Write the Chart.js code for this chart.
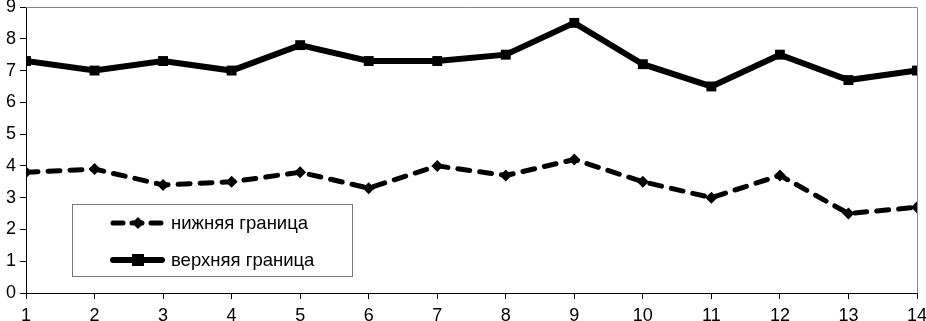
<!DOCTYPE html>
<html>
<head>
<meta charset="utf-8">
<script src="https://cdn.jsdelivr.net/npm/chart.js@4.4.0/dist/chart.umd.min.js"></script>
<style>
  html, body { margin: 0; padding: 0; background: #fff; }
  #wrap { width: 926px; height: 321px; }
</style>
</head>
<body>
<div id="wrap"><canvas id="bounds-chart"></canvas></div>
<script>
// data
const points = [1, 2, 3, 4, 5, 6, 7, 8, 9, 10, 11, 12, 13, 14];
const lowerBound = [3.8, 3.9, 3.4, 3.5, 3.8, 3.3, 4.0, 3.7, 4.2, 3.5, 3.0, 3.7, 2.5, 2.7];
const upperBound = [7.3, 7.0, 7.3, 7.0, 7.8, 7.3, 7.3, 7.5, 8.5, 7.2, 6.5, 7.5, 6.7, 7.0];
const seriesNames = ['нижняя граница', 'верхняя граница'];

const FONT = 'Liberation Sans, Arial, sans-serif';

// gray top/right frame + boxed legend inside the plot
const framePlugin = {
  id: 'frame',
  afterDraw(chart) {
    const { ctx, chartArea: a } = chart;
    ctx.save();
    ctx.strokeStyle = '#888';
    ctx.lineWidth = 1;
    ctx.beginPath();
    ctx.moveTo(a.left, a.top + 0.5);
    ctx.lineTo(a.right + 0.5, a.top + 0.5);
    ctx.lineTo(a.right + 0.5, a.bottom);
    ctx.stroke();

    // legend box
    const bx = 72.5, by = 204.5, bw = 280, bh = 72;
    ctx.fillStyle = '#fff';
    ctx.fillRect(bx, by, bw, bh);
    ctx.strokeStyle = '#777';
    ctx.strokeRect(bx, by, bw, bh);

    const rows = [
      { y: 223, dash: [10, 9], width: 5, marker: 'diamond' },
      { y: 260, dash: [], width: 6, marker: 'square' }
    ];
    rows.forEach((r, i) => {
      ctx.strokeStyle = '#000';
      ctx.lineWidth = r.width;
      ctx.lineCap = 'round';
      ctx.setLineDash(r.dash);
      ctx.beginPath();
      ctx.moveTo(113, r.y);
      ctx.lineTo(162, r.y);
      ctx.stroke();
      ctx.setLineDash([]);
      ctx.fillStyle = '#000';
      ctx.beginPath();
      if (r.marker === 'square') {
        ctx.rect(132, r.y - 6, 12, 12);
      } else {
        ctx.moveTo(138, r.y - 6);
        ctx.lineTo(144, r.y);
        ctx.lineTo(138, r.y + 6);
        ctx.lineTo(132, r.y);
        ctx.closePath();
      }
      ctx.fill();
      ctx.font = '18.5px ' + FONT;
      ctx.textBaseline = 'middle';
      ctx.fillText(seriesNames[i], 171, r.y + 1);
    });
    ctx.restore();
  }
};

const ctx = document.getElementById('bounds-chart').getContext('2d');
new Chart(ctx, {
  type: 'line',
  data: {
    datasets: [
      {
        label: seriesNames[0],
        data: points.map((x, i) => ({ x: x, y: lowerBound[i] })),
        borderColor: '#000',
        backgroundColor: '#000',
        borderWidth: 5,
        borderDash: [12, 10],
        borderCapStyle: 'round',
        pointStyle: 'rectRot',
        pointRadius: 6,
        pointBorderWidth: 0,
        tension: 0
      },
      {
        label: seriesNames[1],
        data: points.map((x, i) => ({ x: x, y: upperBound[i] })),
        borderColor: '#000',
        backgroundColor: '#000',
        borderWidth: 6,
        pointStyle: 'rect',
        pointRadius: 7,
        pointBorderWidth: 0,
        tension: 0
      }
    ]
  },
  plugins: [framePlugin],
  options: {
    responsive: true,
    maintainAspectRatio: false,
    animation: false,
    layout: { padding: 0 },
    plugins: {
      legend: { display: false },
      tooltip: { enabled: false }
    },
    scales: {
      x: {
        type: 'linear',
        min: 1,
        max: 14,
        afterFit(scale) {
          scale.height = 28;
          scale.paddingLeft = 0;
          scale.paddingRight = 9;
        },
        ticks: {
          stepSize: 1,
          color: '#000',
          padding: 6,
          maxRotation: 0,
          minRotation: 0,
          font: { family: FONT, size: 18 }
        },
        grid: {
          drawOnChartArea: false,
          tickLength: 6,
          color: '#000'
        },
        border: { color: '#000', width: 1 }
      },
      y: {
        min: 0,
        max: 9,
        afterFit(scale) {
          scale.width = 26;
          scale.paddingTop = 7;
          scale.paddingBottom = 0;
        },
        ticks: {
          stepSize: 1,
          color: '#000',
          padding: 4,
          font: { family: FONT, size: 18 }
        },
        grid: {
          drawOnChartArea: false,
          tickLength: 6,
          color: '#000'
        },
        border: { color: '#000', width: 1 }
      }
    }
  }
});
</script>
</body>
</html>
